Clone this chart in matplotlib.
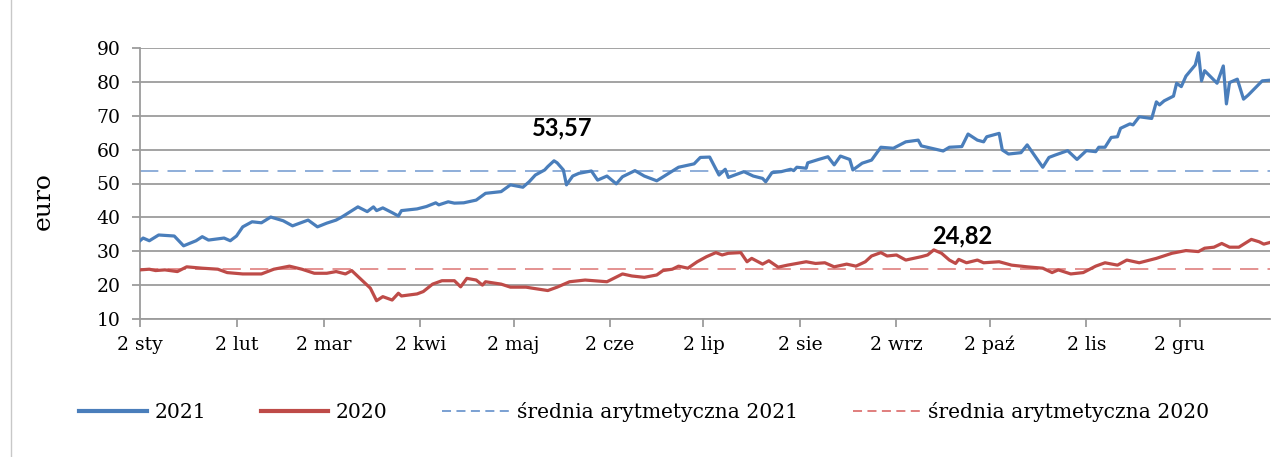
import numpy as np
import matplotlib.pyplot as plt
from matplotlib.lines import Line2D

# days counted from 2 Jan
days_2021 = [0, 1, 3, 6, 11, 14, 18, 20, 22, 27, 29, 31, 33, 36, 39, 42, 46, 49, 54, 57,
             60, 63, 65, 70, 73, 75, 76, 78, 81, 83, 84, 89, 92, 95, 96, 99, 101, 104, 108, 111,
             116, 119, 123, 125, 127, 130, 131, 133, 134, 136, 137, 139, 141, 145, 147, 150, 153, 155, 159, 162,
             166, 169, 173, 178, 180, 183, 186, 188, 189, 194, 197, 200, 201, 203, 206, 209, 210, 211, 214, 214.5,
             218, 221, 223, 225, 228, 229, 232, 235, 238, 242, 246, 250, 251, 258, 260, 264, 266, 269, 271, 272,
             276, 277, 279, 283, 285, 290, 292, 294, 298, 301, 304, 307, 308, 310, 312, 314, 315, 318, 319, 321,
             325, 326.5, 327.5, 329, 332, 333, 334.5, 336, 339, 340, 341, 342, 346, 348, 349, 350, 352.5, 354.5, 356, 360.5,
             363]
vals_2021 = [33.1, 33.9, 33.1, 34.8, 34.5, 31.6, 33.1, 34.3, 33.3, 33.9, 33.1, 34.5, 37.2, 38.7, 38.4, 40.1, 39.0, 37.5, 39.2, 37.2,
             38.3, 39.2, 40.2, 43.1, 41.7, 43.1, 42.0, 42.8, 41.4, 40.4, 42.0, 42.5, 43.2, 44.3, 43.7, 44.6, 44.2, 44.3, 45.1, 47.1,
             47.6, 49.6, 48.9, 50.5, 52.5, 54.0, 55.0, 56.7, 56.1, 54.0, 49.6, 52.2, 53.0, 53.7, 51.0, 52.2, 49.9, 52.0, 53.8, 52.2,
             50.8, 52.5, 54.8, 55.8, 57.7, 57.8, 52.5, 54.2, 51.8, 53.5, 52.2, 51.5, 50.5, 53.2, 53.5, 54.2, 53.8, 54.8, 54.5, 56.1,
             57.1, 57.9, 55.5, 58.1, 57.1, 54.0, 56.0, 56.9, 60.7, 60.4, 62.3, 62.8, 61.1, 59.6, 60.7, 60.9, 64.6, 62.8, 62.3, 63.8,
             64.8, 59.9, 58.7, 59.1, 61.4, 54.8, 57.7, 58.4, 59.7, 57.1, 59.7, 59.4, 60.7, 60.7, 63.6, 63.8, 66.3, 67.6, 67.3, 69.7,
             69.2, 74.1, 73.2, 74.4, 75.8, 79.6, 78.6, 81.7, 85.0, 88.6, 80.3, 83.3, 79.6, 84.7, 73.5, 79.8, 80.8, 74.9, 76.1, 80.3,
             80.5]

days_2020 = [0, 3, 5, 8, 12, 15, 20, 25, 28, 33, 39, 43, 48, 52, 56, 60, 63, 66, 68, 71,
             74, 76, 78, 81, 83, 84, 89, 91, 94, 97, 101, 103, 105, 108, 110, 111, 116, 119, 124, 126,
             131, 134, 138, 143, 150, 155, 158, 162, 166, 168, 171, 173, 176, 179, 182, 185, 187, 189, 193, 195,
             196.5, 200, 202, 205, 208, 211, 214, 217, 220, 223, 227, 230, 233, 235, 238, 240, 243, 246, 251, 253,
             255, 257.5, 260, 262, 263, 265.5, 269, 271, 276, 280, 285, 290, 293, 295, 299, 303, 307, 310, 314, 317,
             321, 326.5, 331.5, 336, 340, 342, 345, 347.5, 350, 353, 357, 359.5, 361, 363]
vals_2020 = [24.5, 24.7, 24.3, 24.5, 24.0, 25.4, 25.0, 24.7, 23.7, 23.3, 23.3, 24.7, 25.6, 24.7, 23.5, 23.5, 24.0, 23.3, 24.3, 21.7,
             19.1, 15.4, 16.6, 15.6, 17.6, 16.8, 17.4, 18.1, 20.3, 21.3, 21.3, 19.5, 22.0, 21.5, 20.0, 21.0, 20.3, 19.4, 19.4, 19.1,
             18.4, 19.4, 21.0, 21.5, 21.0, 23.3, 22.7, 22.3, 23.0, 24.3, 24.7, 25.6, 25.0, 26.9, 28.4, 29.6, 28.9, 29.4, 29.6, 26.9,
             27.9, 26.2, 27.2, 25.3, 25.9, 26.4, 26.9, 26.4, 26.6, 25.4, 26.2, 25.6, 26.9, 28.6, 29.6, 28.6, 28.9, 27.4, 28.4, 28.9,
             30.4, 29.4, 27.4, 26.4, 27.6, 26.6, 27.4, 26.6, 26.9, 25.9, 25.4, 25.0, 23.7, 24.5, 23.3, 23.7, 25.6, 26.6, 25.9, 27.4,
             26.6, 27.9, 29.4, 30.2, 29.9, 30.9, 31.2, 32.3, 31.2, 31.2, 33.5, 32.8, 32.1, 32.6]

mean_2021 = 53.57
mean_2020 = 24.82

month_days = [0, 31, 59, 90, 120, 151, 181, 212, 243, 273, 304, 334]
month_labels = ["2 sty", "2 lut", "2 mar", "2 kwi", "2 maj", "2 cze",
                "2 lip", "2 sie", "2 wrz", "2 paź", "2 lis", "2 gru"]

blue = "#4a7ebb"
red = "#be4b48"
blue_d = "#7099cf"
red_d = "#dd7473"
grid_c = "#9c9c9c"

plt.rcParams["font.family"] = "DejaVu Serif"

fig = plt.figure(figsize=(12.83, 4.57), dpi=100)
ax = fig.add_axes([140 / 1283, 1 - 319 / 457, 1130 / 1283, 271 / 457])

ax.plot(days_2021, vals_2021, color=blue, lw=2.3, solid_joinstyle="round", zorder=3)
ax.plot(days_2020, vals_2020, color=red, lw=2.3, solid_joinstyle="round", zorder=3)
ax.axhline(mean_2021, color=blue_d, lw=1.1, dashes=(12, 6), zorder=2)
ax.axhline(mean_2020, color=red_d, lw=1.1, dashes=(12, 6), zorder=2)

ax.text(135.5, 66.4, "53,57", ha="center", va="center", fontsize=17,
        fontweight="bold", family="Lato")
ax.text(264, 34.5, "24,82", ha="center", va="center", fontsize=17,
        fontweight="bold", family="Lato")

ax.set_xlim(0, 363)
ax.set_ylim(10, 90)
ax.set_yticks(range(10, 91, 10))
ax.set_xticks(month_days)
ax.set_xticklabels(month_labels)
ax.yaxis.grid(True, color=grid_c, lw=1.3)
ax.set_axisbelow(True)
for s in ["top", "right"]:
    ax.spines[s].set_visible(False)
for s in ["left", "bottom"]:
    ax.spines[s].set_color(grid_c)
    ax.spines[s].set_linewidth(1.3)
ax.tick_params(axis="both", colors=grid_c, length=6, width=1.3, labelsize=13.5, labelcolor="black")
ax.tick_params(axis="y", pad=8)
ax.tick_params(axis="x", pad=6)
ax.set_ylabel("euro", fontsize=18, labelpad=30, y=0.435)

handles = [Line2D([], [], color=blue, lw=3),
           Line2D([], [], color=red, lw=3),
           Line2D([], [], color=blue_d, lw=1.3, dashes=(5, 3)),
           Line2D([], [], color=red_d, lw=1.3, dashes=(5, 3))]
labels = ["2021", "2020", "średnia arytmetyczna 2021", "średnia arytmetyczna 2020"]
fig.legend(handles, labels, loc="center", bbox_to_anchor=(0.502, 1 - 412 / 457), ncol=4,
           frameon=False, fontsize=14.6, handlelength=3.35, handletextpad=0.35, columnspacing=2.7)

fig.add_artist(Line2D([10.5 / 1283, 10.5 / 1283], [0, 1], color="#c8c8c8", lw=1))

fig.savefig("out.png", dpi=100)
